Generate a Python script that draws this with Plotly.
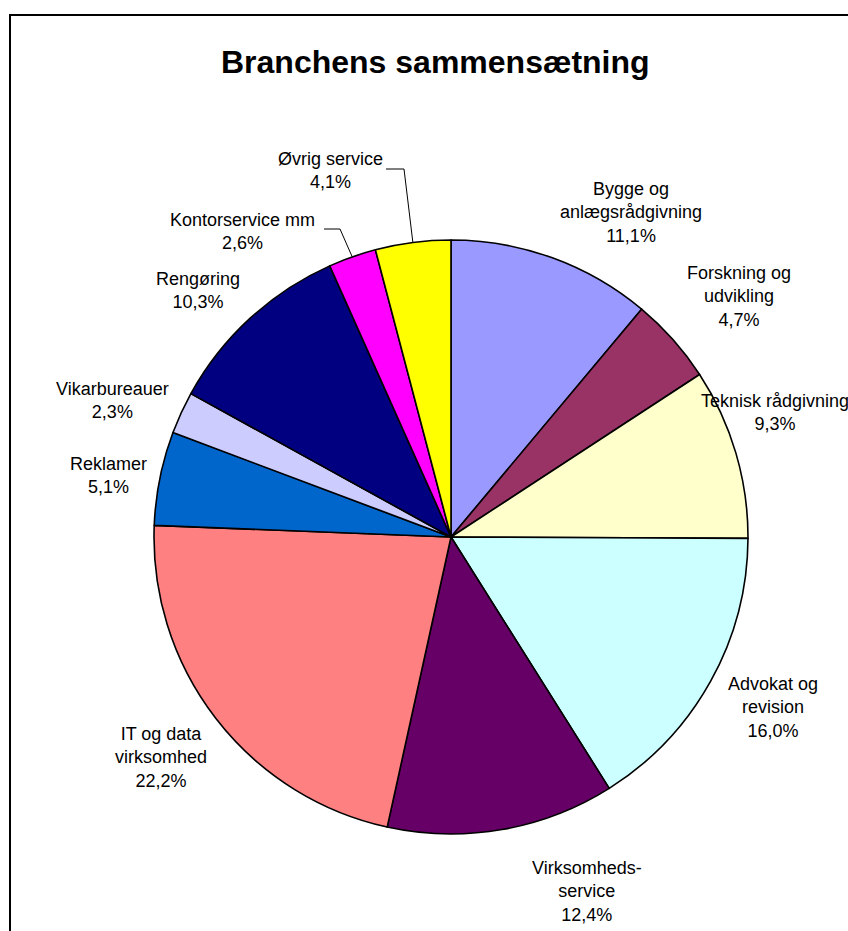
import math
import plotly.graph_objects as go

# Sector shares (percent), clockwise from 12 o'clock
categories = [
    "Bygge og anlægsrådgivning", "Forskning og udvikling", "Teknisk rådgivning",
    "Advokat og revision", "Virksomheds-service", "IT og data virksomhed",
    "Reklamer", "Vikarbureauer", "Rengøring", "Kontorservice mm", "Øvrig service",
]
shares = [11.1, 4.7, 9.3, 16.0, 12.4, 22.2, 5.1, 2.3, 10.3, 2.6, 4.1]
label_lines = [
    "Bygge og<br>anlægsrådgivning", "Forskning og<br>udvikling", "Teknisk rådgivning",
    "Advokat og<br>revision", "Virksomheds-<br>service", "IT og data<br>virksomhed",
    "Reklamer", "Vikarbureauer", "Rengøring", "Kontorservice mm", "Øvrig service",
]
colors = [
    "#9999FF", "#993366", "#FFFFCC", "#CCFFFF", "#660066", "#FF8080",
    "#0066CC", "#CCCCFF", "#000080", "#FF00FF", "#FFFF00",
]

W, H = 848, 931
FONT = "Liberation Sans, Arial, sans-serif"

# pie placement in pixels
CX, CY, R = 451, 537, 297

# label block centres in pixels (layout), same order as categories
label_pos = [
    (631, 212), (739, 296), (775, 413), (773, 707), (587, 891), (161, 757),
    (108, 475), (112, 401), (198, 290), (243, 231), (330, 170),
]
# elbow start for leader lines of labels moved away from their slice
leader_start = {9: (324, 229), 10: (386, 169)}
leader_elbow_dx = {9: 16, 10: 18}


def px(x):
    return x / W


def py(y):
    return 1 - y / H


def pct_text(v):
    return f"{v:.1f}".replace(".", ",") + "%"


fig = go.Figure(
    go.Pie(
        labels=categories,
        values=shares,
        sort=False,
        direction="clockwise",
        rotation=0,
        marker=dict(colors=colors, line=dict(color="black", width=1.6)),
        textinfo="none",
        hoverinfo="none",
        showlegend=False,
        domain=dict(x=[px(CX - R), px(CX + R)], y=[py(CY + R), py(CY - R)]),
    )
)

annotations = [
    dict(
        text="<b>Branchens sammensætning</b>",
        x=px(435), y=py(62), xref="paper", yref="paper",
        xanchor="center", yanchor="middle", showarrow=False,
        font=dict(family=FONT, size=32, color="black"),
    )
]

total = sum(shares)
cum = 0.0
shapes = [
    dict(type="rect", xref="paper", yref="paper",
         x0=px(10), y0=py(960), x1=px(880), y1=py(15),
         line=dict(color="black", width=2), fillcolor="rgba(0,0,0,0)")
]
for i, v in enumerate(shares):
    mid = (cum + v / 2) / total * 2 * math.pi
    cum += v
    lx, ly = label_pos[i]
    annotations.append(dict(
        text=f"{label_lines[i]}<br>{pct_text(v)}",
        x=px(lx), y=py(ly), xref="paper", yref="paper",
        xanchor="center", yanchor="middle", showarrow=False, align="center",
        font=dict(family=FONT, size=18, color="black"),
    ))
    if i in leader_start:
        sx, sy = leader_start[i]
        ex = CX + R * math.sin(mid)
        ey = CY - R * math.cos(mid)
        path = (f"M {px(sx)} {py(sy)} L {px(sx + leader_elbow_dx[i])} {py(sy)} "
                f"L {px(ex)} {py(ey)}")
        shapes.append(dict(type="path", xref="paper", yref="paper", path=path,
                           line=dict(color="black", width=1)))

fig.update_layout(
    width=W, height=H,
    margin=dict(l=0, r=0, t=0, b=0),
    paper_bgcolor="white",
    plot_bgcolor="white",
    annotations=annotations,
    shapes=shapes,
)

fig.write_html("out.html", config={"displayModeBar": False})
